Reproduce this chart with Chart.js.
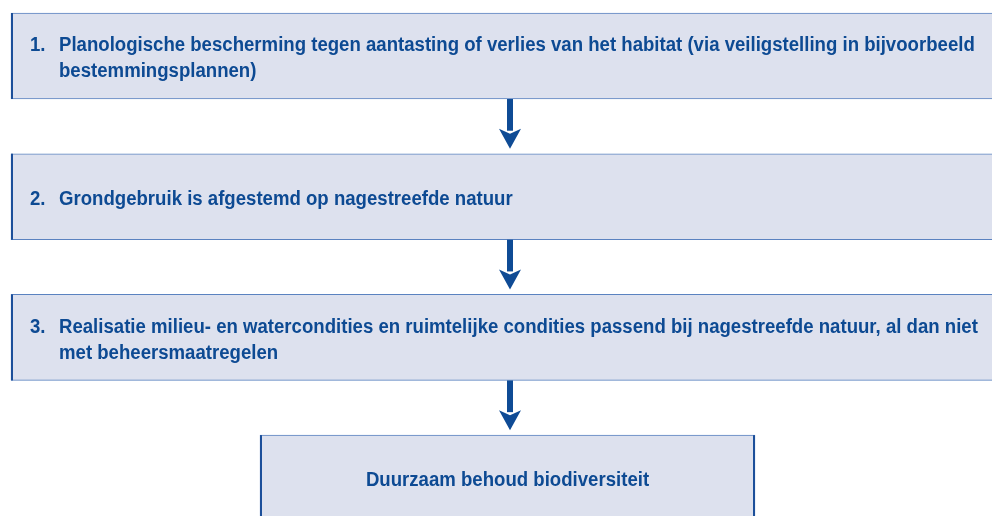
<!DOCTYPE html>
<html>
<head>
<meta charset="utf-8">
<script src="https://cdn.jsdelivr.net/npm/chart.js@4"></script>
<style>
    html, body { margin: 0; padding: 0; background: #ffffff; }
    #wrap { width: 992px; height: 516px; position: relative; }
</style>
</head>
<body>
<div id="wrap"><canvas id="flowChart"></canvas></div>
<script>
// Stappen van het schema
const stepIndex = [0, 1, 2, 3];
const stepNumbers = ['1.', '2.', '3.', ''];
const stepLines = [
    ['Planologische bescherming tegen aantasting of verlies van het habitat (via veiligstelling in bijvoorbeeld', 'bestemmingsplannen)'],
    ['Grondgebruik is afgestemd op nagestreefde natuur'],
    ['Realisatie milieu- en watercondities en ruimtelijke condities passend bij nagestreefde natuur, al dan niet', 'met beheersmaatregelen'],
    ['Duurzaam behoud biodiversiteit']
];
// Begin en eind van elk vak op de horizontale as
const boxFrom = [11, 11, 11, 260];
const boxTo = [1000, 1000, 1000, 755];
// Pijlen tussen de stappen (positie op de horizontale as)
const arrowAt = [510, 510, 510];

// Kleuren
const colors = {
    fill: '#dde1ee',
    border: '#5a82c0',
    edge: '#1c4f9a',
    text: '#0d4a93',
    arrow: '#0f4b95'
};

const fontSize = 20;
const textScaleX = 0.93; // iets smallere letters, zoals in het origineel
const lineHeight = 26;

// Tekst met horizontale schaal
function drawText(ctx, text, x, y, align) {
    ctx.save();
    ctx.translate(x, y);
    ctx.scale(textScaleX, 1);
    ctx.textAlign = align;
    ctx.fillText(text, 0, 0);
    ctx.restore();
}

// Tekst, donkere randen en pijlen
const flowPlugin = {
    id: 'flow',
    afterDatasetsDraw(chart) {
        const ctx = chart.ctx;
        const meta = chart.getDatasetMeta(0);
        const xScale = chart.scales.x;
        ctx.save();
        meta.data.forEach((bar, i) => {
            const left = Math.min(bar.x, bar.base);
            const right = Math.max(bar.x, bar.base);
            const top = bar.y - bar.height / 2;
            const bottom = bar.y + bar.height / 2;

            // donkere zijranden
            ctx.fillStyle = colors.edge;
            ctx.fillRect(left, top, 2, bar.height);
            ctx.fillRect(right - 2, top, 2, bar.height);

            // tekst
            ctx.fillStyle = colors.text;
            ctx.font = 'bold ' + fontSize + 'px "Liberation Sans", Arial, sans-serif';
            ctx.textBaseline = 'alphabetic';
            const lines = stepLines[i];
            const firstCenter = bar.y + 1 - (lines.length - 1) * lineHeight / 2;
            const capHalf = fontSize * 0.716 / 2;
            lines.forEach((line, j) => {
                const yy = firstCenter + j * lineHeight + capHalf;
                if (stepNumbers[i]) {
                    if (j === 0) drawText(ctx, stepNumbers[i], left + 19, yy, 'left');
                    drawText(ctx, line, left + 48, yy, 'left');
                } else {
                    drawText(ctx, line, (left + right) / 2, yy, 'center');
                }
            });

            // pijl naar de volgende stap
            if (i < arrowAt.length && meta.data[i + 1]) {
                const next = meta.data[i + 1];
                const ax = xScale.getPixelForValue(arrowAt[i]);
                const y0 = bottom;
                const y1 = next.y - next.height / 2 - 5;
                const headLen = 20;
                ctx.fillStyle = colors.arrow;
                ctx.fillRect(ax - 3, y0, 6, y1 - y0 - headLen + 2);
                ctx.beginPath();
                ctx.moveTo(ax - 11, y1 - headLen);
                ctx.lineTo(ax, y1 - headLen + 5);
                ctx.lineTo(ax + 11, y1 - headLen);
                ctx.lineTo(ax, y1);
                ctx.closePath();
                ctx.fill();
            }
        });
        ctx.restore();
    }
};

const ctx = document.getElementById('flowChart').getContext('2d');

const flowChart = new Chart(ctx, {
    type: 'bar',
    data: {
        labels: stepNumbers,
        datasets: [{
            data: stepIndex.map(i => ({ x: [boxFrom[i], boxTo[i]], y: i })),
            backgroundColor: colors.fill,
            borderColor: colors.border,
            borderWidth: 1,
            borderSkipped: false,
            barThickness: 86
        }]
    },
    options: {
        indexAxis: 'y', // horizontale vakken
        responsive: true,
        maintainAspectRatio: false,
        animation: false,
        layout: { padding: 0 },
        plugins: {
            legend: { display: false },
            tooltip: { enabled: false }
        },
        scales: {
            x: {
                type: 'linear',
                display: false,
                offset: false,
                min: 0,
                max: 992
            },
            y: {
                type: 'linear',
                display: false,
                offset: false,
                reverse: true,
                min: -0.398,
                max: 3.269
            }
        }
    },
    plugins: [flowPlugin]
});
</script>
</body>
</html>
